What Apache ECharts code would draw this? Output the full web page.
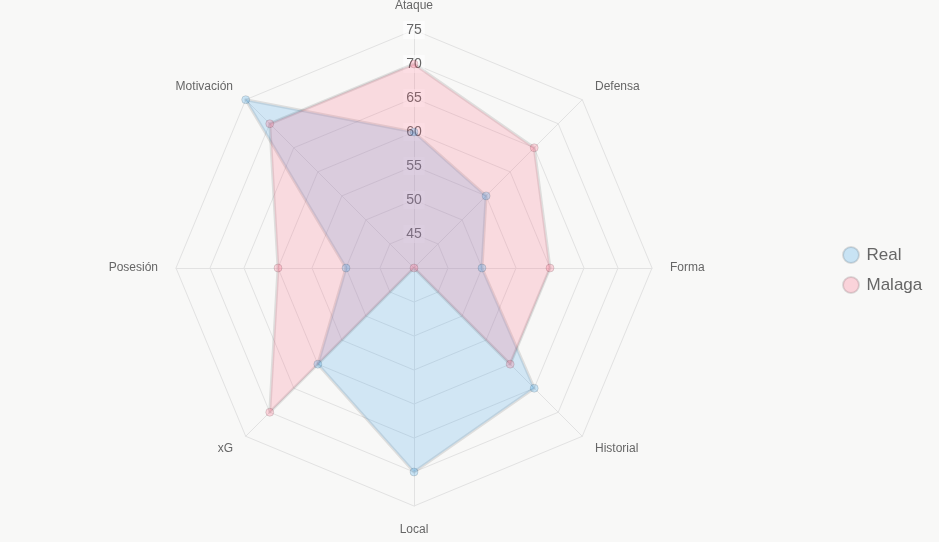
<!DOCTYPE html>
<html>
<head>
<meta charset="utf-8">
<script src="https://cdn.jsdelivr.net/npm/echarts@6/dist/echarts.min.js"></script>
<style>
  html, body { margin: 0; padding: 0; background: #f8f8f7; }
  #chart { width: 939px; height: 542px; }
</style>
</head>
<body>
<div id="chart"></div>
<script>
// indicators, counter-clockwise from the top (echarts radar order)
const indicators = ['Ataque', 'Motivación', 'Posesión', 'xG', 'Local', 'Historial', 'Forma', 'Defensa'];
const realValues = [60, 75, 50, 60, 70, 65, 50, 55];
const malagaValues = [70, 70, 60, 70, 40, 60, 60, 65];
const scaleMin = 40;
const scaleMax = 75;
const seriesNames = ['Real', 'Malaga'];

const chart = echarts.init(document.getElementById('chart'));

const option = {
  backgroundColor: '#f8f8f7',
  textStyle: { fontFamily: 'Liberation Sans, Arial, sans-serif' },
  legend: {
    orient: 'vertical',
    left: 837,
    top: 241,
    itemGap: 12,
    itemWidth: 21,
    itemHeight: 16,
    icon: 'circle',
    textStyle: { color: '#666', fontSize: 17 },
    data: seriesNames
  },
  radar: {
    center: [414, 268],
    radius: 238,
    shape: 'polygon',
    splitNumber: 7,
    nameGap: 18,
    axisName: { color: '#666', fontSize: 12 },
    axisLine: { lineStyle: { color: '#e2e2e2' } },
    splitLine: { lineStyle: { color: '#e2e2e2' } },
    splitArea: { show: false },
    axisTick: { show: false },
    axisLabel: { show: false },
    indicator: indicators.map((n, i) => {
      const ind = { name: n, min: scaleMin, max: scaleMax };
      if (i === 0) {
        // tick labels only on the top axis
        ind.axisLabel = {
          show: true,
          showMinLabel: false,
          margin: 0,
          align: 'center',
          verticalAlign: 'middle',
          color: '#666',
          fontSize: 14,
          backgroundColor: 'rgba(255,255,255,0.6)',
          padding: [2, 3]
        };
      }
      return ind;
    })
  },
  series: [{
    type: 'radar',
    symbol: 'circle',
    symbolSize: 8,
    data: [
      {
        name: 'Real',
        value: realValues,
        lineStyle: { color: 'rgba(0,0,0,0.1)', width: 3 },
        areaStyle: { color: 'rgba(54,162,235,0.2)', opacity: 1 },
        itemStyle: { color: 'rgba(54,162,235,0.25)', borderColor: 'rgba(0,0,0,0.12)', borderWidth: 1 }
      },
      {
        name: 'Malaga',
        value: malagaValues,
        lineStyle: { color: 'rgba(0,0,0,0.1)', width: 3 },
        areaStyle: { color: 'rgba(255,99,132,0.2)', opacity: 1 },
        itemStyle: { color: 'rgba(255,99,132,0.25)', borderColor: 'rgba(0,0,0,0.12)', borderWidth: 1 }
      }
    ]
  }]
};

chart.setOption(option);
</script>
</body>
</html>
